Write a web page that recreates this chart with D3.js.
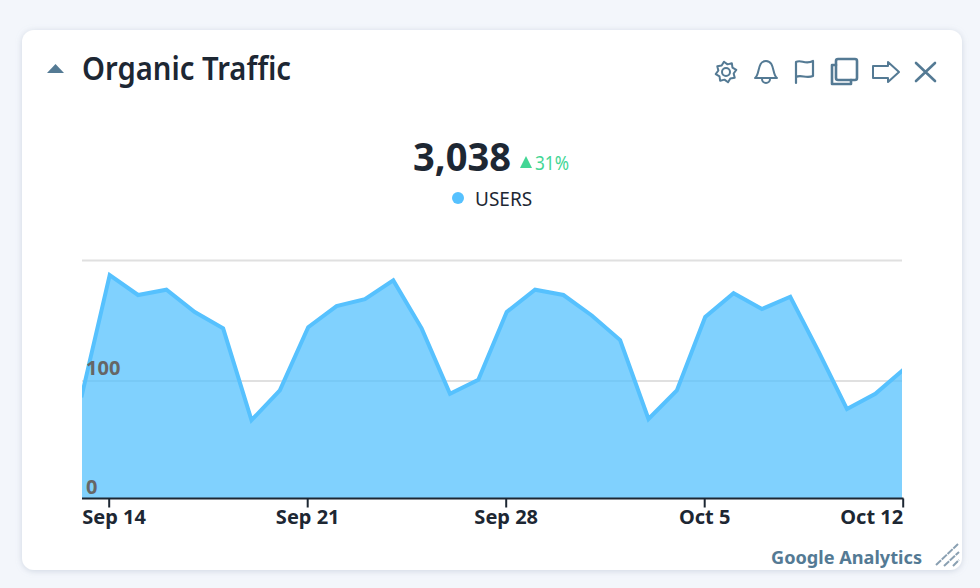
<!DOCTYPE html>
<html><head><meta charset="utf-8">
<script src="https://cdn.jsdelivr.net/npm/d3@7/dist/d3.min.js"></script>
<style>
html,body{margin:0;padding:0;background:#f3f6fb;width:980px;height:588px;overflow:hidden}
svg{display:block}
text{font-family:"Noto Sans","Open Sans",sans-serif}
</style></head><body><svg id="c" width="980" height="588"></svg>
<script>
const startDate = "2023-09-13";
const users = [86,190.6,173.5,178,159,145,66.5,92,146,164,170,186,145,89,101,159,178,173.5,156,135,67.5,92,154.7,175,161.5,172,125,76,89,110];
const gridValues = [100,203];
const yLabels = [0,100];
const xTickDates = ["2023-09-14","2023-09-21","2023-09-28","2023-10-05","2023-10-12"];
const xTickLabels = ["Sep 14","Sep 21","Sep 28","Oct 5","Oct 12"];
const title = "Organic Traffic", total = "3,038", change = "31%", seriesName = "USERS", source = "Google Analytics";

const parse = d3.utcParse("%Y-%m-%d");
const start = parse(startDate);
const dates = users.map((_, i) => d3.utcDay.offset(start, i));
const svg = d3.select("#c");
const defs = svg.append("defs");
const f = defs.append("filter").attr("id","sh").attr("x","-5%").attr("y","-5%").attr("width","110%").attr("height","110%");
f.append("feDropShadow").attr("dx",0).attr("dy",1).attr("stdDeviation",3).attr("flood-color","#8a9ab0").attr("flood-opacity",0.35);
svg.append("rect").attr("x",22).attr("y",30).attr("width",940).attr("height",540).attr("rx",12).attr("fill","#fff").attr("filter","url(#sh)");

const x = d3.scaleUtc().domain([parse("2023-09-14"), parse("2023-10-12")]).range([108.7, 902.7]);
const y = d3.scaleLinear().domain([0,100]).range([498,381]);
const clip = defs.append("clipPath").attr("id","pl");
clip.append("rect").attr("x",82).attr("y",250).attr("width",820).attr("height",248);

// grid
svg.append("g").selectAll("line").data(gridValues).join("line")
  .attr("x1",82).attr("x2",902).attr("y1",d=>y(d)).attr("y2",d=>y(d))
  .attr("stroke","#e0e0e0").attr("stroke-width",2);

const g = svg.append("g").attr("clip-path","url(#pl)").append("g").attr("transform","translate(1,0)");
g.append("path").datum(users)
  .attr("d", d3.area().x((d,i)=>x(dates[i])).y0(y(0)).y1(d=>y(d)))
  .attr("fill","#56c1fe").attr("fill-opacity",0.75);
g.append("path").datum(users)
  .attr("d", d3.line().x((d,i)=>x(dates[i])).y(d=>y(d)))
  .attr("fill","none").attr("stroke","#56c1fe").attr("stroke-width",4);

// y labels
svg.append("g").selectAll("text").data(yLabels).join("text")
  .attr("x",86).attr("y",d=>d===0?494:375).text(d=>d)
  .attr("font-size",20).attr("font-weight",700).attr("fill","#666");

// x axis
const axis = d3.axisBottom(x).tickValues(xTickDates.map(parse)).tickFormat((d,i)=>xTickLabels[i]).tickSize(9).tickSizeOuter(0);
const ax = svg.append("g").attr("transform","translate(0,498.5)").call(axis);
ax.select(".domain").attr("d","M82,0H903.5").attr("stroke","#1d2733").attr("stroke-width",2);
ax.selectAll(".tick line").attr("stroke","#1d2733").attr("stroke-width",2);
ax.selectAll(".tick text").attr("font-size",20).attr("font-weight",700).attr("fill","#1d2733")
  .attr("font-family",'"Noto Sans"').attr("y",11.5).attr("dy","0.71em");
ax.selectAll(".tick text").filter((d,i)=>i===0).attr("text-anchor","start").attr("dx",-27);
ax.selectAll(".tick text").filter((d,i)=>i===4).attr("text-anchor","end").attr("dx",0);

// header
svg.append("path").attr("d","M47 73 L55.5 64 L64 73 Z").attr("fill","#547a94");
svg.append("text").attr("x",82).attr("y",80).text(title).attr("font-size",32).attr("font-weight",600).attr("fill","#1d2733")
  .attr("textLength",209).attr("lengthAdjust","spacingAndGlyphs");

// summary
svg.append("text").attr("x",413).attr("y",171).text(total).attr("font-size",40).attr("font-weight",700).attr("fill","#1d2733")
  .attr("textLength",98).attr("lengthAdjust","spacingAndGlyphs");
svg.append("path").attr("d","M520 168 L526 156 L532 168 Z").attr("fill","#43d695");
svg.append("text").attr("x",535).attr("y",170).text(change).attr("font-size",19).attr("fill","#43d695")
  .attr("textLength",34).attr("lengthAdjust","spacingAndGlyphs");
svg.append("circle").attr("cx",458).attr("cy",198).attr("r",6).attr("fill","#56c1fe");
svg.append("text").attr("x",475).attr("y",206).text(seriesName).attr("font-size",19).attr("fill","#1d2733");

// icons
const ic = svg.append("g").attr("fill","none").attr("stroke","#547a94").attr("stroke-width",2).attr("stroke-linecap","round").attr("stroke-linejoin","round");
const gear = ic.append("g").attr("transform","translate(726,72)");
gear.append("circle").attr("r",4);
const gearPts = d3.range(16).map(i=>{const a=i/16*2*Math.PI+Math.PI/16;const r=(i%2)?10.5:7.8;return [r*Math.cos(a),r*Math.sin(a)];});
gear.append("path").attr("d",d3.line().curve(d3.curveLinearClosed)(gearPts));
ic.append("path").attr("d","M755 78 C760 75 757 61 766 61 C775 61 772 75 777 78 Z");
ic.append("path").attr("d","M762 79 a4 4 0 0 0 8 0");
ic.append("path").attr("d","M796 83 V62 C801 59 805 65 813 61 V76 C806 79 801 74 796 77").attr("stroke-width",2.2);
ic.append("rect").attr("x",836).attr("y",59).attr("width",21).attr("height",21).attr("rx",2).attr("stroke-width",2.6);
ic.append("path").attr("d","M836 65 H832 V84 H851 V80").attr("stroke-width",2.6);
ic.append("path").attr("d","M873 66 H888 V62 L899 72 L888 82 V78 H873 Z");
ic.append("path").attr("d","M916 63 L935 81 M935 63 L916 81").attr("stroke-width",2.6);

// footer
svg.append("text").attr("x",771).attr("y",564).text(source).attr("font-size",18.5).attr("font-weight",700).attr("fill","#547a94")
  .attr("textLength",151).attr("lengthAdjust","spacingAndGlyphs");
svg.append("path").attr("d","M936 565 L958 544 M944 566 L959 552 M953 566 L959 560").attr("stroke","#8aa0b2").attr("stroke-width",2).attr("stroke-dasharray","7 1").attr("fill","none");
</script></body></html>
